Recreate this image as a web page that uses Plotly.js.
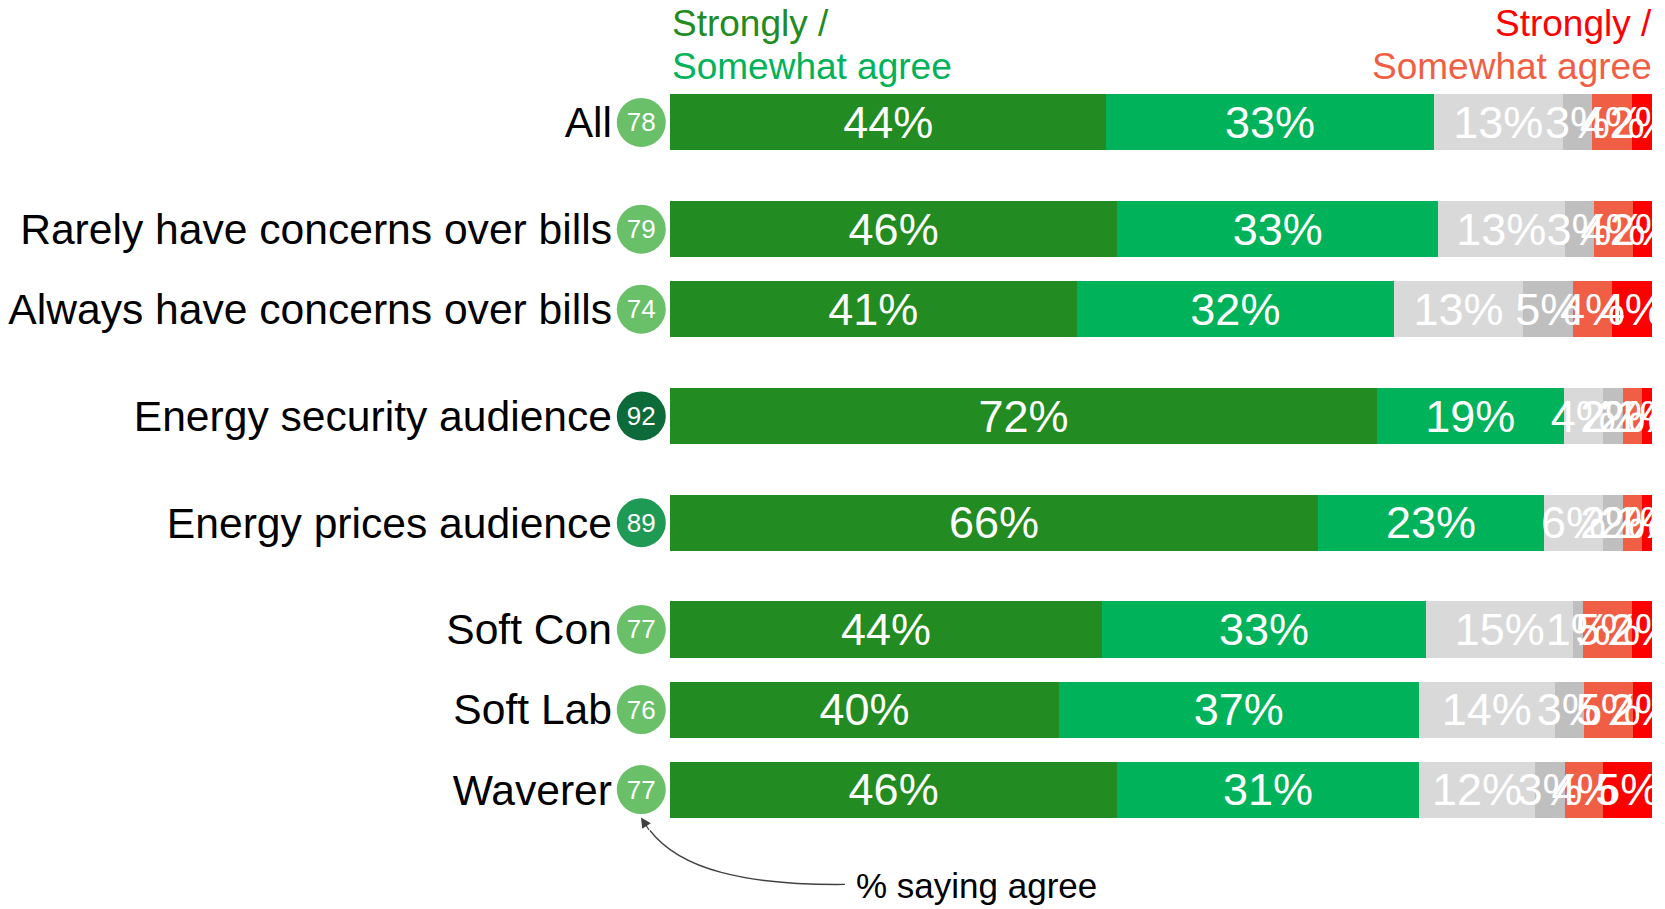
<!DOCTYPE html>
<html>
<head>
<meta charset="utf-8">
<script src="https://cdn.plot.ly/plotly-3.0.1.min.js"></script>
<style>
  html, body { margin: 0; padding: 0; background: #ffffff; }
  #chart { width: 1665px; height: 909px; }
</style>
</head>
<body>
<div id="chart"></div>
<script>
// ---- data ----
const categories = ['All', 'Rarely have concerns over bills', 'Always have concerns over bills',
  'Energy security audience', 'Energy prices audience', 'Soft Con', 'Soft Lab', 'Waverer'];
const groupOf = [0, 1, 1, 2, 3, 4, 4, 4];
const stronglyAgree    = [44, 46, 41, 72, 66, 44, 40, 46];
const somewhatAgree    = [33, 33, 32, 19, 23, 33, 37, 31];
const neither          = [13, 13, 13, 4, 6, 15, 14, 12];
const dontKnow         = [3, 3, 5, 2, 2, 1, 3, 3];
const somewhatDisagree = [4, 4, 4, 2, 2, 5, 5, 4];
const stronglyDisagree = [2, 2, 4, 1, 1, 2, 2, 5];
const totalAgree       = [78, 79, 74, 92, 89, 77, 76, 77];

// ---- layout helpers ----
const W = 1665, H = 909;
const M = { l: 600, r: 13, t: 68.5, b: 65.5 };
const plotW = W - M.l - M.r, plotH = H - M.t - M.b;
const px2x = px => (px - M.l) / plotW;
const py2y = py => (H - M.b - py) / plotH;
const barStart = px2x(670);

// row positions: 0.75 step within a group, 1 step between groups
const rowY = [];
groupOf.forEach((g, i) => {
  if (i === 0) rowY.push(0);
  else rowY.push(rowY[i - 1] + (g === groupOf[i - 1] ? 0.75 : 1));
});
const yRange = [rowY[rowY.length - 1] + 0.5, -0.5];
const pxPerUnit = plotH / (yRange[0] - yRange[1]);
const textNudge = 4.5 / pxPerUnit;   // small downward nudge of segment labels
const circleNudge = 2.5 / pxPerUnit; // small downward nudge of circle numbers

const FONT = 'Liberation Sans, Arial, sans-serif';
const series = [
  { name: 'Strongly agree', v: stronglyAgree, c: '#228B22' },
  { name: 'Somewhat agree', v: somewhatAgree, c: '#00B259' },
  { name: 'Neither', v: neither, c: '#D9D9D9' },
  { name: "Don't know", v: dontKnow, c: '#BFBFBF' },
  { name: 'Somewhat disagree', v: somewhatDisagree, c: '#F05F45' },
  { name: 'Strongly disagree', v: stronglyDisagree, c: '#FF0000' }
];

const traces = series.map(s => ({
  type: 'bar',
  orientation: 'h',
  name: s.name,
  y: rowY,
  x: s.v,
  width: 0.525,
  marker: { color: s.c, line: { width: 0 } },
  hoverinfo: 'skip'
}));

// segment labels, centred in each normalised segment
const totals = rowY.map((_, i) => series.reduce((a, s) => a + s.v[i], 0));
const labX = [], labY = [], labT = [];
rowY.forEach((y, i) => {
  let cum = 0;
  series.forEach(s => {
    const v = s.v[i];
    labX.push((cum + v / 2) / totals[i] * 100);
    labY.push(y + textNudge);
    labT.push(v + '%');
    cum += v;
  });
});
traces.push({
  type: 'scatter', mode: 'text',
  x: labX, y: labY, text: labT,
  textposition: 'middle center',
  textfont: { color: '#ffffff', size: 45, family: FONT },
  cliponaxis: true, hoverinfo: 'skip', showlegend: false
});

const circleColor = v => v >= 90 ? '#0C6B38' : (v >= 85 ? '#1F9A55' : '#6ABF69');
traces.push({
  type: 'scatter',
  mode: 'markers',
  xaxis: 'x2', yaxis: 'y',
  x: rowY.map(() => 0.59),
  y: rowY,
  marker: { size: 49, color: totalAgree.map(circleColor), line: { width: 0 } },
  cliponaxis: false,
  hoverinfo: 'skip',
  showlegend: false
});
traces.push({
  type: 'scatter',
  mode: 'text',
  xaxis: 'x2', yaxis: 'y',
  x: rowY.map(() => 0.59),
  y: rowY.map(y => y + circleNudge),
  text: totalAgree.map(String),
  textposition: 'middle center',
  textfont: { color: '#ffffff', size: 26, family: FONT },
  cliponaxis: false,
  hoverinfo: 'skip',
  showlegend: false
});

const layout = {
  width: W, height: H,
  margin: M,
  paper_bgcolor: '#ffffff', plot_bgcolor: '#ffffff',
  barmode: 'stack',
  barnorm: 'percent',
  showlegend: false,
  font: { family: FONT, color: '#000000' },
  xaxis: { domain: [barStart, 1], range: [0, 100], visible: false, fixedrange: true },
  xaxis2: { domain: [0, barStart], range: [0, 1], visible: false, fixedrange: true, anchor: 'y' },
  yaxis: {
    anchor: 'x',
    range: yRange,
    tickvals: rowY, ticktext: categories,
    tickfont: { size: 42.6, color: '#000000', family: FONT },
    ticks: '', showgrid: false, zeroline: false, showline: false,
    ticklabelstandoff: 57, fixedrange: true
  },
  annotations: [
    { xref: 'paper', yref: 'paper', x: barStart, y: py2y(23), xanchor: 'left', yanchor: 'middle',
      text: 'Strongly /', showarrow: false, font: { size: 37, color: '#228B22', family: FONT } },
    { xref: 'paper', yref: 'paper', x: barStart, y: py2y(66), xanchor: 'left', yanchor: 'middle',
      text: 'Somewhat agree', showarrow: false, font: { size: 37, color: '#00B259', family: FONT } },
    { xref: 'paper', yref: 'paper', x: 1, y: py2y(23), xanchor: 'right', yanchor: 'middle', xshift: 2,
      text: 'Strongly /', showarrow: false, font: { size: 37, color: '#FF0000', family: FONT } },
    { xref: 'paper', yref: 'paper', x: 1, y: py2y(66), xanchor: 'right', yanchor: 'middle', xshift: 2,
      text: 'Somewhat agree', showarrow: false, font: { size: 37, color: '#F05F45', family: FONT } },
    { xref: 'paper', yref: 'paper', x: px2x(854), y: py2y(886), xanchor: 'left', yanchor: 'middle',
      text: '% saying agree', showarrow: false, font: { size: 35, color: '#000000', family: FONT } },
    { xref: 'paper', yref: 'paper', x: px2x(641), y: py2y(818), text: '', showarrow: true,
      ax: 9, ay: 14, arrowhead: 2, arrowsize: 1.7, arrowwidth: 1.2, arrowcolor: '#404040', standoff: 0 }
  ],
  shapes: [
    { type: 'path', xref: 'paper', yref: 'paper', layer: 'above',
      path: 'M ' + px2x(845) + ',' + py2y(885) +
            ' C ' + px2x(745) + ',' + py2y(886) + ' ' + px2x(680) + ',' + py2y(870) + ' ' + px2x(650) + ',' + py2y(831),
      line: { color: '#404040', width: 1.3 } }
  ]
};

Plotly.newPlot('chart', traces, layout, { displayModeBar: false, staticPlot: true });
</script>
</body>
</html>
